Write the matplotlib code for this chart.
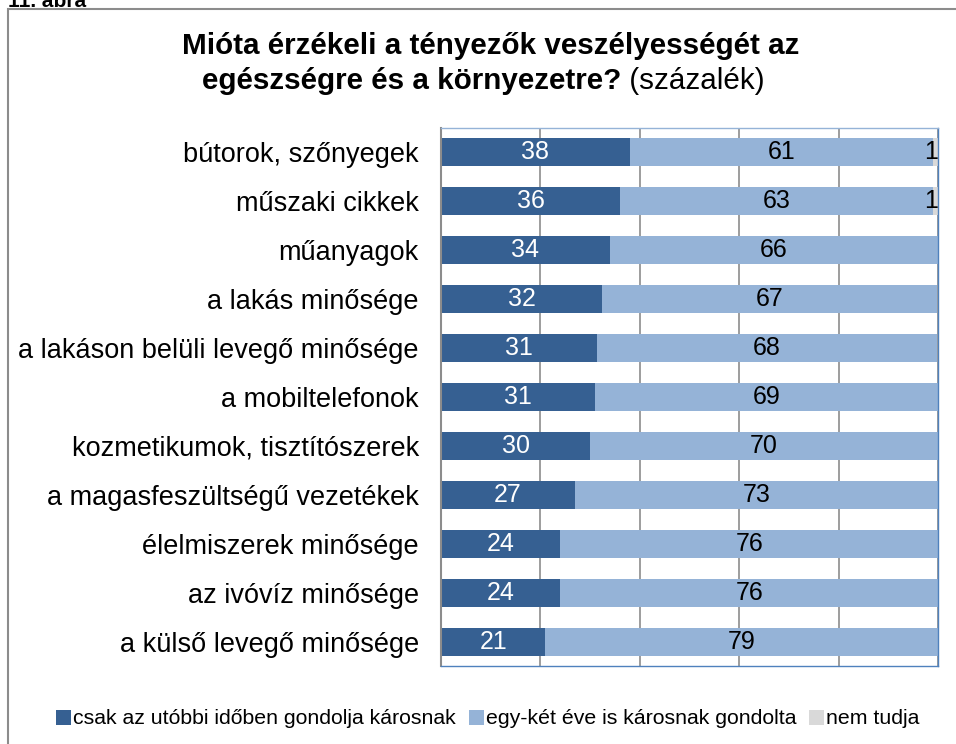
import matplotlib
matplotlib.use("Agg")
import matplotlib.pyplot as plt
from matplotlib.patches import Rectangle
import numpy as np

plt.rcParams['font.family'] = ['Liberation Sans', 'DejaVu Sans']

# categories, top to bottom
categories = [
    "bútorok, szőnyegek",
    "műszaki cikkek",
    "műanyagok",
    "a lakás minősége",
    "a lakáson belüli levegő minősége",
    "a mobiltelefonok",
    "kozmetikumok, tisztítószerek",
    "a magasfeszültségű vezetékek",
    "élelmiszerek minősége",
    "az ivóvíz minősége",
    "a külső levegő minősége",
]
# shares (percent); the two 99-sum rows carry their rounding remainder
recent = [38, 36, 34, 32.4, 31.4, 31, 30, 27, 24, 24, 21]
earlier = [61, 63, 66, 67.4, 68.4, 69, 70, 73, 76, 76, 79]
dont_know = [1, 1, 0, 0, 0, 0, 0, 0, 0, 0, 0]

series_names = ["csak az utóbbi időben gondolja károsnak",
                "egy-két éve is károsnak gondolta",
                "nem tudja"]
colors = ["#366092", "#95B3D7", "#D9D9D9"]
label_colors = ["white", "black", "black"]

fig = plt.figure(figsize=(9.56, 7.44), dpi=100)
ax = fig.add_axes([0.4613, 0.1048, 0.5199, 0.7232])

# outer frame (cropped at right/bottom in the original)
fig.patches.append(Rectangle((8 / 956, -0.05), 1.1, 1 - 9 / 744 + 0.05,
                             transform=fig.transFigure, fill=False,
                             edgecolor="#8c8c8c", linewidth=1.5))
fig.text(8 / 956, 1 - 7 / 744, "11. ábra", fontsize=15, fontweight="bold",
         va="baseline", ha="left")

y = np.arange(len(categories))
left = np.zeros(len(categories))
for vals, name, col, lc in zip([recent, earlier, dont_know], series_names,
                               colors, label_colors):
    vals = np.array(vals, dtype=float)
    ax.barh(y, vals, left=left, height=0.57, color=col, label=name, zorder=2)
    for yi, l, v in zip(y, left, vals):
        if v >= 0.5:
            txt = str(int(v))
            if v > 2:
                ax.text(l + v / 2, yi, txt, ha="center", va="center",
                        color=lc, fontsize=18, zorder=3)
            else:
                ax.text(l + v, yi, txt, ha="right", va="center",
                        color=lc, fontsize=18, zorder=3)
    left += vals

ax.set_xlim(0, 100)
ax.set_ylim(len(categories) - 0.5, -0.5)
ax.set_yticks(y)
ax.set_yticklabels(categories, fontsize=19.5)
ax.tick_params(axis="y", length=0, pad=16)
ax.set_xticks([0, 20, 40, 60, 80, 100])
ax.tick_params(axis="x", length=0, labelbottom=False)
ax.grid(axis="x", color="#8c8c8c", linewidth=1.2, zorder=0)
ax.spines["left"].set_color("#8c8c8c")
ax.spines["left"].set_linewidth(1.5)
for s in ["top", "right", "bottom"]:
    ax.spines[s].set_color("#4F81BD")
    ax.spines[s].set_linewidth(1.0)
ax.spines["top"].set_color("#95B3D7")

# title: bold two lines, second line ends with a regular "(százalék)"
fig.text(491 / 956, 1 - 46 / 744, "Mióta érzékeli a tényezők veszélyességét az",
         ha="center", va="center", fontsize=21.3, fontweight="bold")
r = fig.canvas.get_renderer()
t1 = fig.text(0, 1 - 81 / 744, "egészségre és a környezetre?", ha="left",
              va="center", fontsize=21.3, fontweight="bold")
t2 = fig.text(0, 1 - 81 / 744, " (százalék)", ha="left", va="center",
              fontsize=21.3)
w1 = t1.get_window_extent(r).width
w2 = t2.get_window_extent(r).width
x0 = 483 - (w1 + w2) / 2
t1.set_x(x0 / 956)
t2.set_x((x0 + w1) / 956)

fig.legend(loc="center", bbox_to_anchor=(488 / 956, 1 - 719 / 744), ncol=3,
           frameon=False, fontsize=15.3,
           handlelength=0.7, handleheight=0.7,
           handletextpad=0.1, columnspacing=0.6)

fig.savefig("out.png", dpi=100)
